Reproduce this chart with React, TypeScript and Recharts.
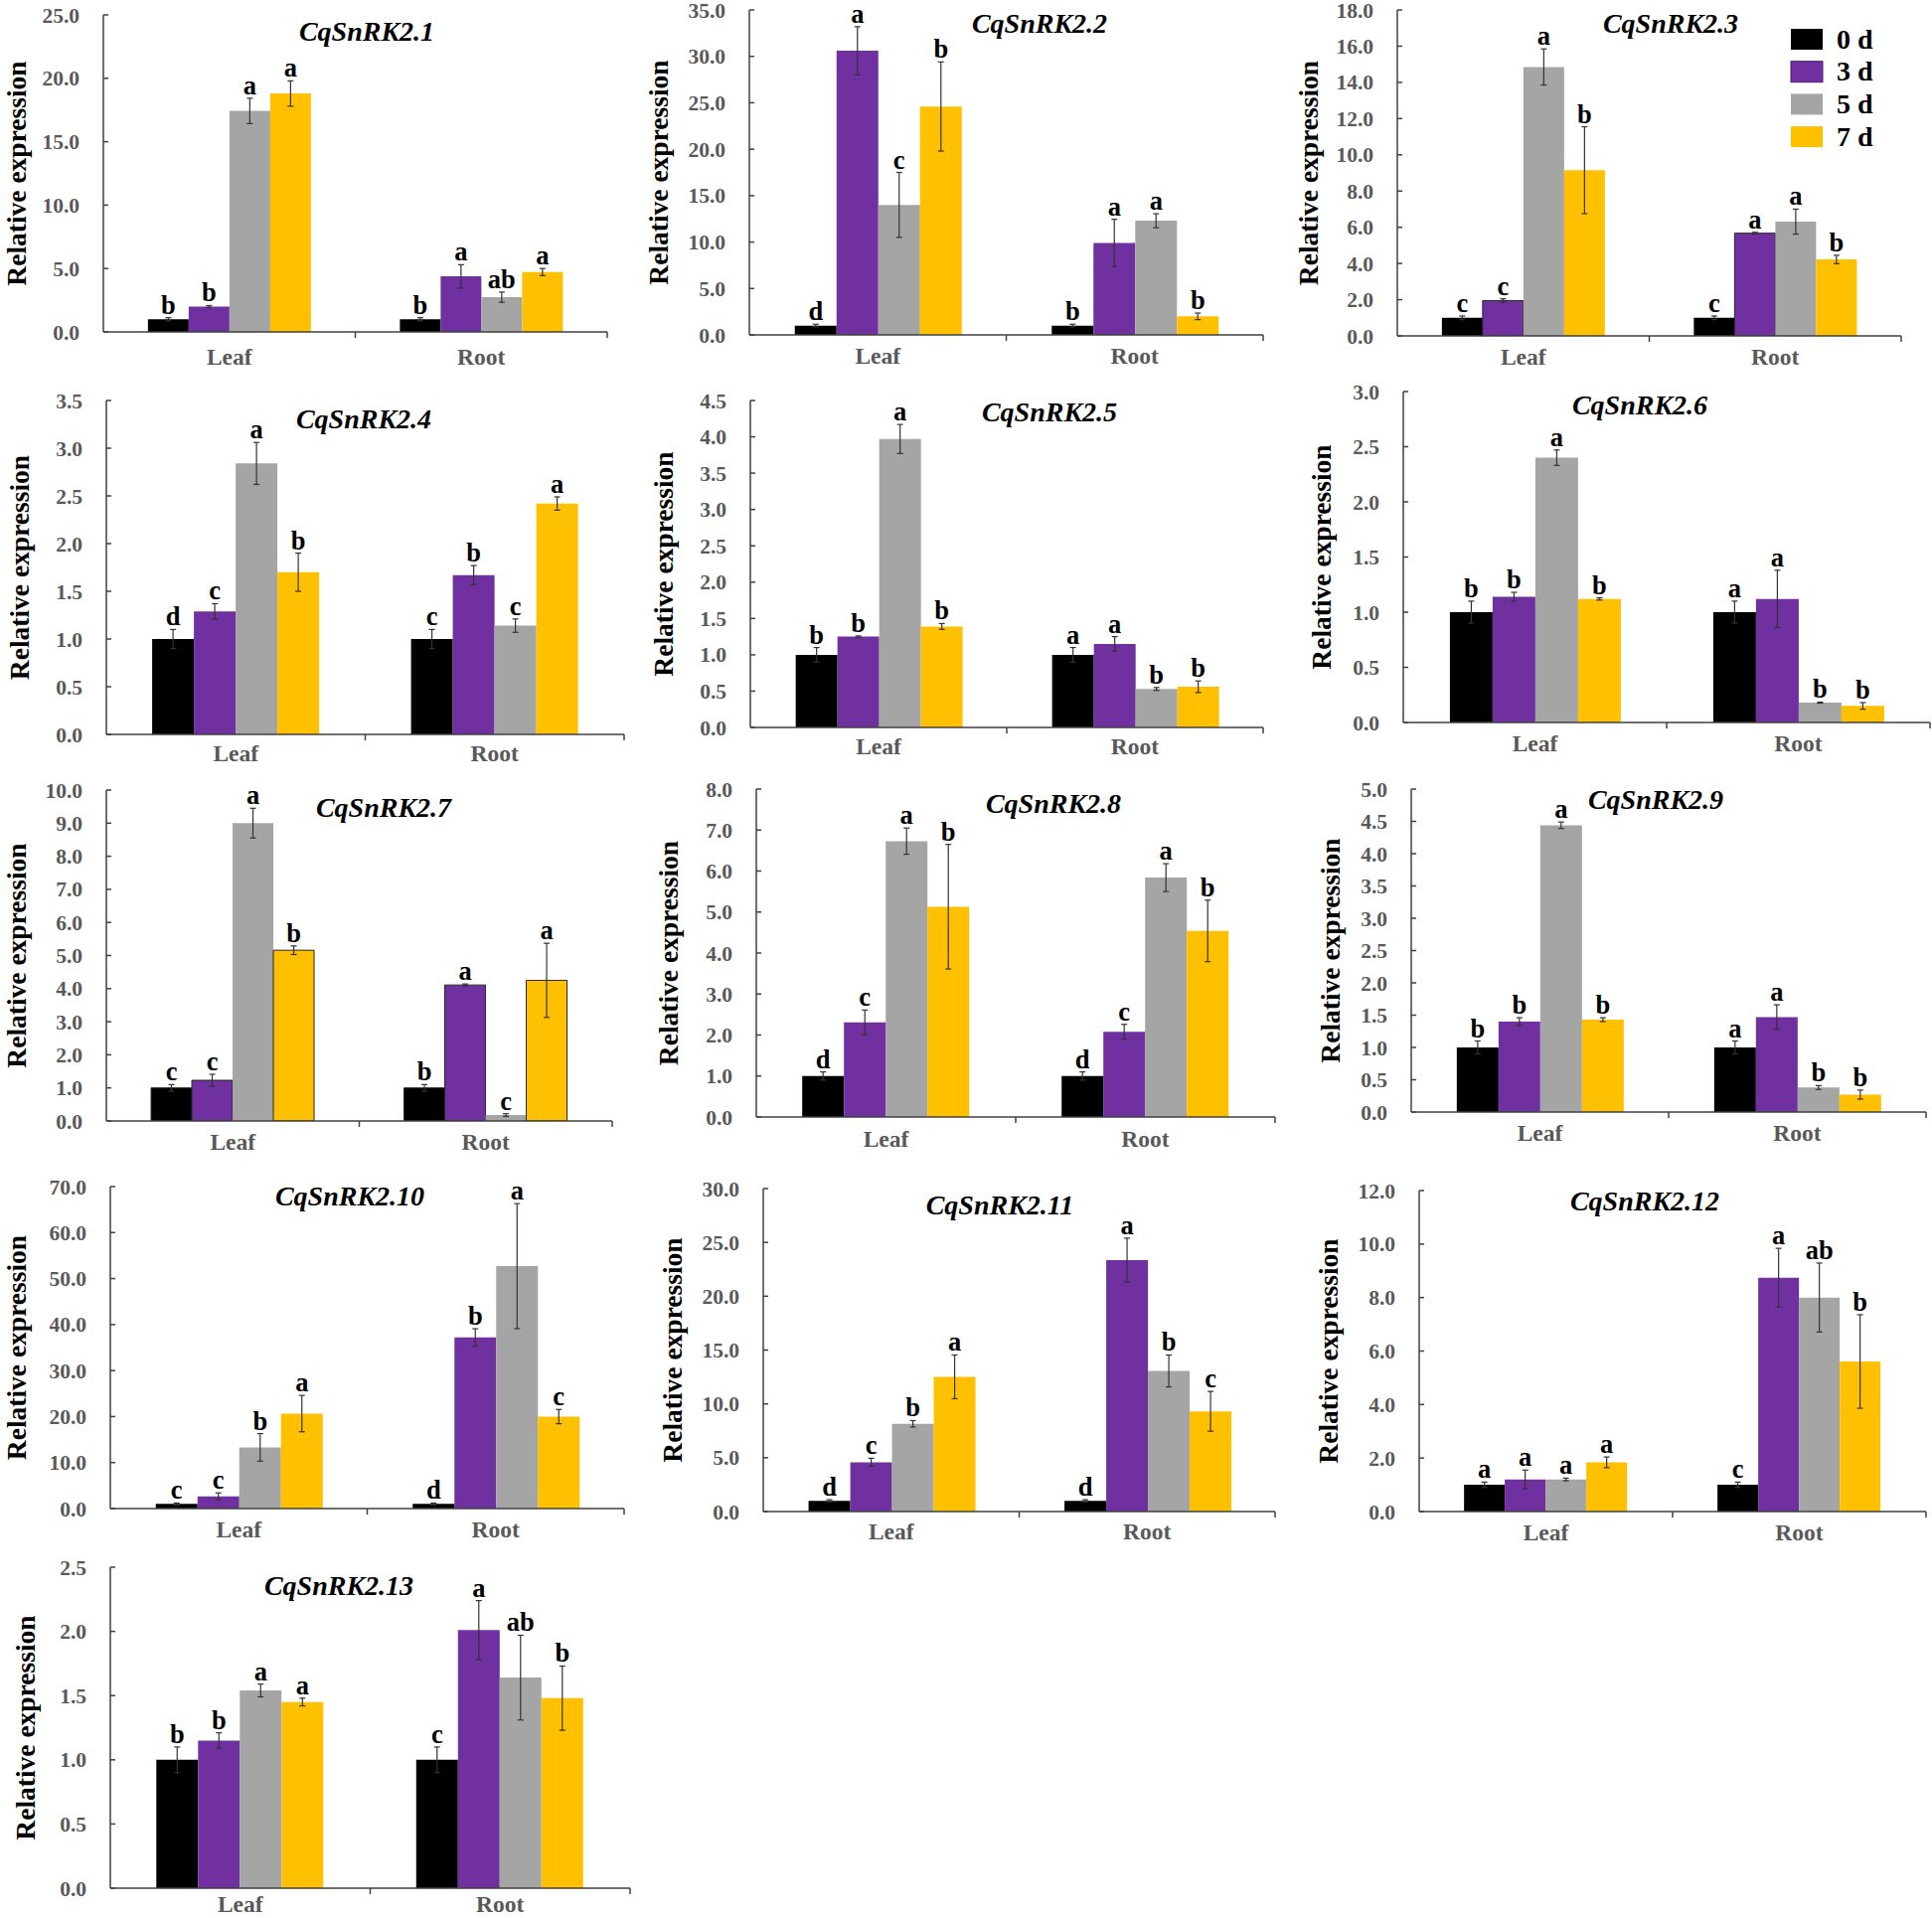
import React from 'react';
import { BarChart, Bar, XAxis, YAxis, ErrorBar, LabelList } from 'recharts';

const CATEGORIES = ['Leaf', 'Root'];
const SERIES_NAMES = ['0 d', '3 d', '5 d', '7 d'];
const SERIES_COLORS = ['#000000', '#7030A0', '#A5A5A5', '#FFC000'];
const GENES = [
  'CqSnRK2.1', 'CqSnRK2.2', 'CqSnRK2.3', 'CqSnRK2.4', 'CqSnRK2.5', 'CqSnRK2.6', 'CqSnRK2.7',
  'CqSnRK2.8', 'CqSnRK2.9', 'CqSnRK2.10', 'CqSnRK2.11', 'CqSnRK2.12', 'CqSnRK2.13',
];
const Y_TITLE = 'Relative expression';

// values: Leaf 0d,3d,5d,7d then Root 0d,3d,5d,7d
const MEAN_1 = [1.0, 2.0, 17.43, 18.8, 1.0, 4.38, 2.74, 4.72];
const ERR_1 = [0.12, 0.08, 1.0, 1.0, 0.12, 0.92, 0.4, 0.28];
const SIG_1 = ['b', 'b', 'a', 'a', 'b', 'a', 'ab', 'a'];
const TICKS_1 = [0, 5, 10, 15, 20, 25];

const MEAN_2 = [1.0, 30.6, 14.0, 24.6, 1.0, 9.9, 12.3, 2.0];
const ERR_2 = [0.15, 2.6, 3.5, 4.8, 0.15, 2.55, 0.75, 0.35];
const SIG_2 = ['d', 'a', 'c', 'b', 'b', 'a', 'a', 'b'];
const TICKS_2 = [0, 5, 10, 15, 20, 25, 30, 35];

const MEAN_3 = [1.0, 1.95, 14.85, 9.15, 1.0, 5.67, 6.31, 4.22];
const ERR_3 = [0.1, 0.1, 1.0, 2.4, 0.1, 0.05, 0.69, 0.23];
const SIG_3 = ['c', 'c', 'a', 'b', 'c', 'a', 'a', 'b'];
const TICKS_3 = [0, 2, 4, 6, 8, 10, 12, 14, 16, 18];

const MEAN_4 = [1.0, 1.29, 2.84, 1.7, 1.0, 1.67, 1.14, 2.42];
const ERR_4 = [0.1, 0.08, 0.22, 0.2, 0.1, 0.1, 0.07, 0.07];
const SIG_4 = ['d', 'c', 'a', 'b', 'c', 'b', 'c', 'a'];
const TICKS_4 = [0, 0.5, 1, 1.5, 2, 2.5, 3, 3.5];

const MEAN_5 = [1.0, 1.25, 3.97, 1.39, 1.0, 1.15, 0.53, 0.56];
const ERR_5 = [0.1, 0.01, 0.2, 0.04, 0.1, 0.1, 0.02, 0.08];
const SIG_5 = ['b', 'b', 'a', 'b', 'a', 'a', 'b', 'b'];
const TICKS_5 = [0, 0.5, 1, 1.5, 2, 2.5, 3, 3.5, 4, 4.5];

const MEAN_6 = [1.0, 1.14, 2.4, 1.12, 1.0, 1.12, 0.18, 0.15];
const ERR_6 = [0.1, 0.04, 0.07, 0.01, 0.1, 0.26, 0.005, 0.03];
const SIG_6 = ['b', 'b', 'a', 'b', 'a', 'a', 'b', 'b'];
const TICKS_6 = [0, 0.5, 1, 1.5, 2, 2.5, 3];

const MEAN_7 = [1.0, 1.23, 9.0, 5.16, 1.0, 4.11, 0.18, 4.25];
const ERR_7 = [0.1, 0.18, 0.45, 0.13, 0.1, 0.03, 0.04, 1.12];
const SIG_7 = ['c', 'c', 'a', 'b', 'b', 'a', 'c', 'a'];
const TICKS_7 = [0, 1, 2, 3, 4, 5, 6, 7, 8, 9, 10];

const MEAN_8 = [1.0, 2.31, 6.73, 5.13, 1.0, 2.08, 5.84, 4.54];
const ERR_8 = [0.1, 0.3, 0.32, 1.52, 0.1, 0.18, 0.34, 0.75];
const SIG_8 = ['d', 'c', 'a', 'b', 'd', 'c', 'a', 'b'];
const TICKS_8 = [0, 1, 2, 3, 4, 5, 6, 7, 8];

const MEAN_9 = [1.0, 1.4, 4.44, 1.43, 1.0, 1.47, 0.38, 0.27];
const ERR_9 = [0.1, 0.06, 0.05, 0.03, 0.1, 0.19, 0.03, 0.07];
const SIG_9 = ['b', 'b', 'a', 'b', 'a', 'a', 'b', 'b'];
const TICKS_9 = [0, 0.5, 1, 1.5, 2, 2.5, 3, 3.5, 4, 4.5, 5];

const MEAN_10 = [1.0, 2.66, 13.3, 20.65, 1.0, 37.2, 52.7, 20.0];
const ERR_10 = [0.2, 0.75, 3.0, 3.95, 0.2, 1.9, 13.6, 1.55];
const SIG_10 = ['c', 'c', 'b', 'a', 'd', 'b', 'a', 'c'];
const TICKS_10 = [0, 10, 20, 30, 40, 50, 60, 70];

const MEAN_11 = [1.0, 4.58, 8.15, 12.51, 1.0, 23.36, 13.06, 9.31];
const ERR_11 = [0.1, 0.37, 0.3, 2.03, 0.1, 2.03, 1.48, 1.85];
const SIG_11 = ['d', 'c', 'b', 'a', 'd', 'a', 'b', 'c'];
const TICKS_11 = [0, 5, 10, 15, 20, 25, 30];

const MEAN_12 = [1.0, 1.2, 1.2, 1.84, 1.0, 8.74, 8.0, 5.61];
const ERR_12 = [0.1, 0.35, 0.05, 0.2, 0.1, 1.1, 1.29, 1.75];
const SIG_12 = ['a', 'a', 'a', 'a', 'c', 'a', 'ab', 'b'];
const TICKS_12 = [0, 2, 4, 6, 8, 10, 12];

const MEAN_13 = [1.0, 1.15, 1.54, 1.45, 1.0, 2.01, 1.64, 1.48];
const ERR_13 = [0.1, 0.06, 0.05, 0.03, 0.1, 0.23, 0.33, 0.25];
const SIG_13 = ['b', 'b', 'a', 'a', 'c', 'a', 'ab', 'b'];
const TICKS_13 = [0, 0.5, 1, 1.5, 2, 2.5];

const PANEL_DATA = [
  [MEAN_1, ERR_1, SIG_1, TICKS_1],
  [MEAN_2, ERR_2, SIG_2, TICKS_2],
  [MEAN_3, ERR_3, SIG_3, TICKS_3],
  [MEAN_4, ERR_4, SIG_4, TICKS_4],
  [MEAN_5, ERR_5, SIG_5, TICKS_5],
  [MEAN_6, ERR_6, SIG_6, TICKS_6],
  [MEAN_7, ERR_7, SIG_7, TICKS_7],
  [MEAN_8, ERR_8, SIG_8, TICKS_8],
  [MEAN_9, ERR_9, SIG_9, TICKS_9],
  [MEAN_10, ERR_10, SIG_10, TICKS_10],
  [MEAN_11, ERR_11, SIG_11, TICKS_11],
  [MEAN_12, ERR_12, SIG_12, TICKS_12],
  [MEAN_13, ERR_13, SIG_13, TICKS_13],
];

// layout (page px): axis x, plot top, plot bottom, plot right, title centre/baseline, y-title offset
const LAYOUT = [
  { ax: 104, ty: 15, by: 334, rx: 611, tx: 369, tyb: 41, yl: 88, cd: 33 },
  { ax: 754, ty: 10, by: 337, rx: 1271, tx: 1046, tyb: 33, yl: 92, cd: 29 },
  { ax: 1406, ty: 10, by: 338, rx: 1913, tx: 1681, tyb: 33, yl: 90, cd: 29, outline: [false, true, false, false] },
  { ax: 107, ty: 403, by: 739, rx: 628, tx: 366, tyb: 431, yl: 88, cd: 27 },
  { ax: 755, ty: 403, by: 732, rx: 1271, tx: 1056, tyb: 424, yl: 88, cd: 27 },
  { ax: 1412, ty: 394, by: 727, rx: 1942, tx: 1650, tyb: 417, yl: 83, cd: 29 },
  { ax: 107, ty: 795, by: 1128, rx: 616, tx: 386, tyb: 822, yl: 91, cd: 29, outline: [true, true, false, true] },
  { ax: 761, ty: 794, by: 1124, rx: 1283, tx: 1060, tyb: 818, yl: 89, cd: 30 },
  { ax: 1420, ty: 794, by: 1119, rx: 1938, tx: 1666, tyb: 814, yl: 82, cd: 29 },
  { ax: 111, ty: 1194, by: 1518, rx: 628, tx: 352, tyb: 1213, yl: 95, cd: 29 },
  { ax: 768, ty: 1196, by: 1521, rx: 1283, tx: 1006, tyb: 1222, yl: 92, cd: 28 },
  { ax: 1428, ty: 1198, by: 1521, rx: 1938, tx: 1655, tyb: 1218, yl: 92, cd: 29 },
  { ax: 111, ty: 1577, by: 1900, rx: 634, tx: 341, tyb: 1605, yl: 86, cd: 24 },
];

const FONT = '"Liberation Serif", "Times New Roman", serif';
const TICK_COLOR = '#595959';
const AXIS_COLOR = '#404040';

const MT = 20;
const YW = 100;
const XH = 50;
const MR = 4;

function Panel({ idx }: { idx: number }) {
  const [mean, err, sig, ticks] = PANEL_DATA[idx] as any;
  const L = LAYOUT[idx] as any;
  const plotW = L.rx - L.ax;
  const plotH = L.by - L.ty;
  const width = YW + plotW + MR;
  const height = MT + plotH + XH;
  const yMax = ticks[ticks.length - 1];
  const band = plotW / CATEGORIES.length;

  const data = CATEGORIES.map((c, ci) => {
    const row: any = { cat: c };
    for (let s = 0; s < SERIES_NAMES.length; s++) {
      row['v' + s] = mean[ci * 4 + s];
      row['e' + s] = err[ci * 4 + s];
      row['s' + s] = sig[ci * 4 + s];
    }
    return row;
  });

  const yTick = (p: any) => {
    const { x, y, payload } = p;
    return (
      <g>
        <line x1={YW} x2={YW + 5} y1={y} y2={y} stroke={AXIS_COLOR} strokeWidth={1.5} />
        <text x={x} y={y} dy="0.35em" textAnchor="end" fontFamily={FONT} fontWeight="bold" fontSize={21.5} fill={TICK_COLOR}>
          {Number(payload.value).toFixed(1)}
        </text>
      </g>
    );
  };

  const xTick = (p: any) => {
    const { x, y, payload } = p;
    const bx = x + band / 2;
    return (
      <g>
        <line x1={bx} x2={bx} y1={y} y2={y + 6} stroke={AXIS_COLOR} strokeWidth={1.5} />
        <text x={x} y={y + L.cd} textAnchor="middle" fontFamily={FONT} fontWeight="bold" fontSize={23.5} fill={TICK_COLOR}>
          {payload.value}
        </text>
      </g>
    );
  };

  const letter = (s: number) => (p: any) => {
    const vb = p.viewBox || {};
    const x = p.x ?? vb.x;
    const w = p.width ?? vb.width;
    const row = data[p.index];
    if (!row) return null;
    const top = MT + plotH - ((row['v' + s] + row['e' + s]) * plotH) / yMax;
    return (
      <text x={x + w / 2} y={top - 4} textAnchor="middle" fontFamily={FONT} fontWeight="bold" fontSize={26.5} fill="#000">
        {row['s' + s]}
      </text>
    );
  };

  return (
    <div style={{ position: 'absolute', left: L.ax - YW, top: L.ty - MT }}>
      <BarChart
        width={width}
        height={height}
        data={data}
        margin={{ top: MT, right: MR, left: 0, bottom: 0 }}
        barGap={0}
        barCategoryGap="17.7%"
      >
        <XAxis
          dataKey="cat"
          height={XH}
          axisLine={{ stroke: AXIS_COLOR, strokeWidth: 1.5 }}
          tickLine={false}
          tickSize={0}
          tickMargin={0}
          interval={0}
          tick={xTick}
        />
        <YAxis
          width={YW}
          type="number"
          domain={[0, yMax]}
          ticks={ticks}
          allowDataOverflow
          interval={0}
          axisLine={{ stroke: AXIS_COLOR, strokeWidth: 1.5 }}
          tickLine={false}
          tickSize={0}
          tickMargin={24}
          tick={yTick}
        />
        {SERIES_NAMES.map((name, s) => {
          const outlined = L.outline ? L.outline[s] : false;
          return (
            <Bar
              key={name}
              name={name}
              dataKey={'v' + s}
              fill={SERIES_COLORS[s]}
              stroke={outlined ? '#262626' : 'none'}
              strokeWidth={outlined ? 1 : 0}
              isAnimationActive={false}
            >
              <ErrorBar dataKey={'e' + s} width={3} stroke="#333333" strokeWidth={1.2} direction="y" />
              <LabelList dataKey={'s' + s} content={letter(s)} />
            </Bar>
          );
        })}
      </BarChart>
    </div>
  );
}

const LEGEND_POS = { x: 1802, y: 29, w: 32, h: 21, step: 32.7, textX: 1848 };

function Overlay() {
  return (
    <svg
      width={1944}
      height={1930}
      style={{ position: 'absolute', left: 0, top: 0, pointerEvents: 'none' }}
    >
      {LAYOUT.map((L, i) => (
        <g key={i}>
          <text x={L.tx} y={L.tyb} textAnchor="middle" fontFamily={FONT} fontWeight="bold" fontStyle="italic" fontSize={28} fill="#000">
            {GENES[i]}
          </text>
          <text
            transform={`translate(${L.ax - L.yl},${(L.ty + L.by) / 2}) rotate(-90)`}
            textAnchor="middle"
            dominantBaseline="central"
            fontFamily={FONT}
            fontWeight="bold"
            fontSize={27.5}
            fill="#000"
          >
            {Y_TITLE}
          </text>
        </g>
      ))}
      {SERIES_NAMES.map((n, s) => {
        const y = LEGEND_POS.y + s * LEGEND_POS.step;
        return (
          <g key={n}>
            <rect x={LEGEND_POS.x} y={y} width={LEGEND_POS.w} height={LEGEND_POS.h} fill={SERIES_COLORS[s]} stroke={s === 1 ? '#4a1f70' : 'none'} />
            <text x={LEGEND_POS.textX} y={y + LEGEND_POS.h / 2 + 9} fontFamily={FONT} fontWeight="bold" fontSize={28} fill="#000">
              {n}
            </text>
          </g>
        );
      })}
    </svg>
  );
}

export default function App() {
  return (
    <div style={{ position: 'absolute', left: 0, top: 0, width: 1944, height: 1930, background: '#fff', overflow: 'hidden' }}>
      {LAYOUT.map((_, i) => (
        <Panel key={i} idx={i} />
      ))}
      <Overlay />
    </div>
  );
}
